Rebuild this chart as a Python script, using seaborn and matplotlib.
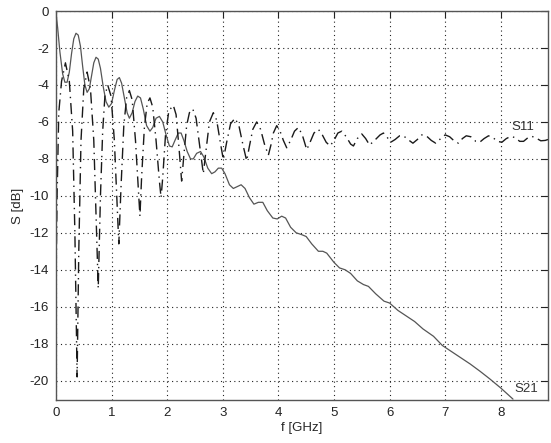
import matplotlib
matplotlib.use("Agg")
import matplotlib.pyplot as plt
import seaborn as sns
import pandas as pd

# ------------------------------
# Values
s21_f = [0.00, 0.03, 0.07, 0.12, 0.16, 0.20, 0.24, 0.28, 0.32, 0.36, 0.40, 0.44, 0.48,
         0.52, 0.56, 0.60, 0.64, 0.68, 0.72, 0.76, 0.80, 0.85, 0.90, 0.95, 1.00, 1.05,
         1.10, 1.14, 1.18, 1.23, 1.28, 1.32, 1.37, 1.42, 1.47, 1.52, 1.57, 1.63, 1.69,
         1.74, 1.80, 1.86, 1.92, 1.98, 2.04, 2.09, 2.14, 2.20, 2.25, 2.30, 2.36, 2.42,
         2.47, 2.53, 2.60, 2.66, 2.73, 2.80, 2.86, 2.92, 2.98, 3.04, 3.12, 3.19, 3.26,
         3.33, 3.40, 3.48, 3.56, 3.64, 3.72, 3.80, 3.90, 3.98, 4.06, 4.13, 4.22, 4.32,
         4.42, 4.50, 4.60, 4.72, 4.80, 4.87, 5.00, 5.10, 5.20, 5.30, 5.42, 5.53, 5.62,
         5.75, 5.90, 6.00, 6.15, 6.30, 6.45, 6.60, 6.79, 6.95, 7.10, 7.30, 7.45, 7.63,
         7.80, 8.00, 8.22]
s21_db = [-0.1, -0.9, -2.2, -3.4, -3.85, -3.85, -3.3, -2.3, -1.5, -1.2, -1.3, -1.9, -3.0,
          -4.0, -4.4, -4.2, -3.5, -2.8, -2.5, -2.6, -3.1, -4.1, -4.9, -5.2, -5.0, -4.3,
          -3.7, -3.6, -3.9, -4.7, -5.5, -5.8, -5.5, -4.9, -4.6, -4.7, -5.3, -6.2, -6.5,
          -6.3, -5.8, -5.7, -6.0, -6.7, -7.3, -7.35, -7.0, -6.6, -6.6, -7.0, -7.6, -8.0,
          -8.0, -7.7, -7.6, -7.9, -8.5, -8.8, -8.7, -8.5, -8.5, -8.8, -9.4, -9.6, -9.5,
          -9.4, -9.6, -10.1, -10.45, -10.35, -10.35, -10.8, -11.2, -11.25, -11.1, -11.2, -11.7, -12.0,
          -12.1, -12.2, -12.6, -13.0, -13.0, -13.1, -13.6, -13.9, -14.0, -14.2, -14.6, -14.8, -14.9,
          -15.3, -15.7, -15.8, -16.2, -16.5, -16.8, -17.2, -17.6, -18.1, -18.4, -18.8, -19.1, -19.5,
          -19.9, -20.4, -21.0]

s11_f = [0.00, 0.02, 0.05, 0.10, 0.17, 0.24, 0.30, 0.34, 0.38, 0.41, 0.45, 0.50, 0.56,
         0.62, 0.68, 0.72, 0.76, 0.80, 0.84, 0.88, 0.93,
         0.99, 1.05, 1.10, 1.13, 1.17, 1.22, 1.27, 1.32,
         1.37, 1.43, 1.48, 1.51, 1.54, 1.59, 1.64, 1.69,
         1.74, 1.80, 1.86, 1.89, 1.92, 1.97, 2.03, 2.11,
         2.16, 2.21, 2.26, 2.30, 2.35, 2.40, 2.46,
         2.52, 2.58, 2.65, 2.70, 2.76, 2.83,
         2.89, 2.95, 3.01, 3.07, 3.14, 3.22,
         3.29, 3.36, 3.43, 3.48, 3.54, 3.61,
         3.68, 3.75, 3.82, 3.87, 3.91, 3.97,
         4.03, 4.09, 4.15, 4.22, 4.29, 4.36,
         4.43, 4.47, 4.51, 4.57, 4.64, 4.72,
         4.79, 4.86, 4.93, 5.00, 5.07, 5.14,
         5.22, 5.30, 5.35, 5.42, 5.50, 5.57, 5.64, 5.73, 5.83, 5.89, 5.95, 6.02,
         6.10, 6.18, 6.25, 6.33, 6.42, 6.50, 6.58, 6.66, 6.75, 6.83, 6.92, 7.00,
         7.08, 7.17, 7.24, 7.31, 7.38, 7.46, 7.55, 7.62, 7.70, 7.78, 7.86, 7.94,
         8.02, 8.10, 8.18, 8.26, 8.34, 8.41, 8.49, 8.56, 8.64, 8.72, 8.80, 8.85]
s11_db = [-15.0, -10.0, -5.5, -3.8, -2.8, -3.8, -6.5, -12.0, -19.8, -13.0, -7.0, -4.2, -3.3,
          -4.2, -7.0, -11.0, -15.0, -10.0, -6.5, -4.6, -4.0,
          -4.6, -7.0, -10.5, -12.6, -9.5, -6.2, -4.7, -4.3,
          -4.8, -7.0, -9.5, -11.1, -9.0, -6.3, -5.0, -4.7,
          -5.2, -7.0, -9.2, -10.1, -9.0, -6.7, -5.4, -5.1,
          -5.6, -7.3, -9.2, -7.8, -6.2, -5.5, -5.3,
          -5.8, -7.2, -8.8, -7.5, -6.0, -5.5,
          -5.9, -7.0, -8.05, -7.1, -6.1, -5.8,
          -6.2, -7.2, -8.1, -7.3, -6.4, -6.0,
          -6.4, -7.2, -7.8, -7.2, -6.6, -6.2,
          -6.5, -7.0, -7.4, -7.0, -6.5, -6.3,
          -6.7, -7.1, -7.5, -7.1, -6.6, -6.4,
          -6.7, -7.1, -7.3, -7.0, -6.6, -6.5,
          -6.8, -7.2, -7.3, -6.9, -6.65, -6.9, -7.25, -7.0, -6.7, -6.6, -6.8, -7.1,
          -6.95, -6.75, -6.75, -6.95, -7.15, -6.95, -6.7, -6.75, -7.0, -7.15, -6.9, -6.7,
          -6.8, -7.05, -7.15, -6.9, -6.75, -6.8, -7.05, -7.1, -6.9, -6.75, -6.85, -7.05,
          -7.1, -6.9, -6.78, -6.85, -7.05, -7.05, -6.85, -6.78, -6.88, -7.02, -7.0, -6.95]

x_ticks = [0, 1, 2, 3, 4, 5, 6, 7, 8]
y_ticks = [0, -2, -4, -6, -8, -10, -12, -14, -16, -18, -20]

df21 = pd.DataFrame({"f": s21_f, "S": s21_db})
df11 = pd.DataFrame({"f": s11_f, "S": s11_db})

# ------------------------------
sns.set_style("white")
plt.rcParams["font.family"] = ["Liberation Sans", "DejaVu Sans"]

fig, ax = plt.subplots(figsize=(5.51, 4.43), dpi=100)
fig.subplots_adjust(left=0.1016, right=0.9946, bottom=0.097, top=0.975)

sns.lineplot(data=df21, x="f", y="S", estimator=None, sort=False,
             color="#555555", linewidth=0.9, ax=ax)
sns.lineplot(data=df11, x="f", y="S", estimator=None, sort=False,
             color="#1a1a1a", linewidth=1.0, ax=ax)
ax.lines[-1].set_dashes([8, 3.5, 1, 3.5])

ax.set_xlim(0, 8.85)
ax.set_ylim(-21.05, 0)
ax.set_xticks(x_ticks)
ax.set_yticks(y_ticks)
ax.set_xticklabels([str(v) for v in x_ticks])
ax.set_yticklabels([str(v) for v in y_ticks])

# grille pointillée façon MATLAB
ax.grid(True, color="#222222", linestyle=(0, (1, 3)), linewidth=0.8)
ax.tick_params(direction="in", length=5, width=0.8, top=True, right=True,
               labelsize=9.5, colors="#222222", pad=5)
for sp in ax.spines.values():
    sp.set_color("#555555")
    sp.set_linewidth(1.0)

ax.set_xlabel("f [GHz]", fontsize=9.5, labelpad=2)
ax.set_ylabel("S [dB]", fontsize=9.5, labelpad=4)

ax.text(8.2, -6.25, "S11", fontsize=9.5, color="#333333", ha="left", va="center")
ax.text(8.25, -20.45, "S21", fontsize=9.5, color="#333333", ha="left", va="center")

plt.savefig("out.png", dpi=100)
plt.close()
